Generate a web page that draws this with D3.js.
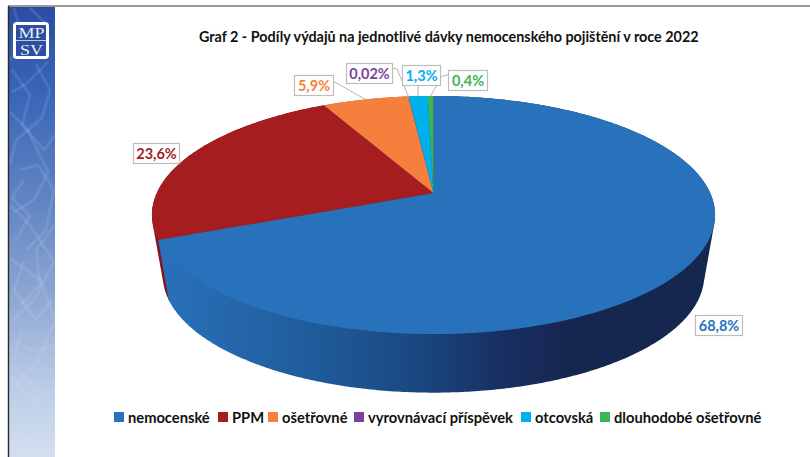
<!DOCTYPE html>
<html>
<head>
<meta charset="utf-8">
<script src="https://cdn.jsdelivr.net/npm/d3@7"></script>
<style>
html, body { margin: 0; padding: 0; background: #fff; }
svg { display: block; }
text { font-family: Lato, "Open Sans", sans-serif; font-weight: 700; }
</style>
</head>
<body>
<svg id="chart" width="810" height="457"></svg>
<script>
const titleText = 'Graf 2 - Podíly výdajů na jednotlivé dávky nemocenského pojištění v roce 2022';
const categories = ['nemocenské', 'PPM', 'ošetřovné', 'vyrovnávací příspěvek', 'otcovská', 'dlouhodobé ošetřovné'];
const values = [68.8, 23.6, 5.9, 0.02, 1.3, 0.4];
const valueLabels = ['68,8%', '23,6%', '5,9%', '0,02%', '1,3%', '0,4%'];
const colors = ['#2871bb', '#a51d1f', '#f57f3c', '#7a429c', '#00b0ec', '#3cb556'];
const sideColors = ['#2871bb', '#84141a', '#b85c28', '#56306f', '#0080ad', '#2a8040'];

// label boxes, [x, y, w], and where the leader leaves them
const labelBoxes = [[695, 315, 47], [133, 143, 46], [294, 75, 39], [346, 63, 46], [402, 65, 38], [448, 70, 39]];
const leaderPaths = [null, null, [[333, 81]], [[392, 68], [397, 69]], [[418, 85]], [[448, 75], [442, 76]]];

const legendSquares = [114, 218, 268, 354, 521, 600];

const svg = d3.select('#chart');

// the pie is a tilted circle: u, v on the unit circle go through a perspective divide
const topFace = { cx: 433.5, y0: 193, X: 276.7, Y: 115, k: 0.185 };
const bottomFace = { cx: 433.5, y0: 254, X: 266, Y: 113, k: 0.185 };

function project(face, angle) {
    let u = Math.sin(angle), v = -Math.cos(angle);
    let w = 1 - face.k * v;
    return [face.cx + face.X * u / w, face.y0 + face.Y * v / w];
}

function arcPoints(face, a0, a1) {
    let n = Math.max(2, Math.ceil((a1 - a0) / 0.01));
    return d3.range(n + 1).map(i => project(face, a0 + (a1 - a0) * i / n));
}

const line = d3.line();
const slices = d3.pie().sort(null).value(d => d)(values);

function drawSidebar() {
    let defs = svg.append('defs');
    let grad = defs.append('linearGradient').attr('id', 'bar-fill')
        .attr('x1', 0).attr('y1', 0).attr('x2', 0).attr('y2', 1);
    [[0, '#2a4da3'], [0.2, '#3a66b8'], [0.45, '#6487c4'], [0.65, '#8fa8d4'], [0.85, '#bccde7'], [1, '#d3dff0']]
        .forEach(s => grad.append('stop').attr('offset', s[0]).attr('stop-color', s[1]));

    defs.append('clipPath').attr('id', 'bar-clip').append('rect')
        .attr('x', 9).attr('y', 7).attr('width', 46).attr('height', 450);

    svg.append('rect').attr('x', 9).attr('y', 7).attr('width', 46).attr('height', 450)
        .attr('fill', 'url(#bar-fill)');

    // the faint scribbled letters in the band
    const scribbles = [
        [[30, 8], [44, 22], [10, 60]],
        [[14, 8], [18, 22], [50, 40]],
        [[12, 70], [30, 95], [22, 125], [44, 150], [55, 135]],
        [[36, 64], [50, 90], [42, 118], [16, 140], [10, 165]],
        [[10, 112], [28, 130], [48, 172], [34, 200], [14, 212]],
        [[48, 62], [26, 84], [12, 92]],
        [[20, 170], [38, 165], [54, 190], [46, 230], [26, 250]],
        [[24, 180], [12, 198], [30, 216], [16, 240]],
        [[10, 205], [30, 225], [54, 262], [34, 300], [12, 320]],
        [[24, 262], [14, 290], [36, 320], [52, 300]],
        [[55, 225], [36, 250], [40, 285], [20, 305]],
        [[10, 258], [40, 280], [55, 320], [38, 360], [18, 385]],
        [[14, 340], [34, 352], [55, 345]],
        [[22, 330], [12, 365], [36, 390]],
        [[10, 375], [30, 400], [50, 392]],
        [[40, 395], [24, 425], [34, 457]],
        [[10, 430], [30, 440], [55, 418]]
    ];
    svg.append('g').attr('clip-path', 'url(#bar-clip)')
        .selectAll('path').data(scribbles).join('path')
        .attr('d', line)
        .attr('fill', 'none')
        .attr('stroke', '#dfe6f5')
        .attr('stroke-opacity', 0.12)
        .attr('stroke-linejoin', 'round')
        .attr('stroke-width', 3);

    svg.append('line').attr('x1', 8).attr('y1', 6).attr('x2', 810).attr('y2', 6)
        .attr('stroke', '#333').attr('stroke-width', 1);
    svg.append('line').attr('x1', 8.5).attr('y1', 6).attr('x2', 8.5).attr('y2', 457)
        .attr('stroke', '#2b2b2b').attr('stroke-width', 1.4);

    // logo
    svg.append('rect').attr('x', 13).attr('y', 22).attr('width', 36).attr('height', 37).attr('rx', 4)
        .attr('fill', '#fff');
    svg.append('rect').attr('x', 16).attr('y', 25).attr('width', 30).attr('height', 31)
        .attr('fill', '#2c4f9f');
    svg.append('line').attr('x1', 16).attr('y1', 40.5).attr('x2', 46).attr('y2', 40.5)
        .attr('stroke', '#dfe6f5').attr('stroke-width', 0.8);
    [['MP', 37.5], ['SV', 54.5]].forEach(t => {
        svg.append('text')
            .attr('transform', `translate(31.5,${t[1]}) scale(1.2,1)`)
            .attr('text-anchor', 'middle')
            .style('font-family', '"Liberation Serif", serif').style('font-weight', 400)
            .style('font-size', '15px').attr('fill', '#e8edf7').text(t[0]);
    });
}

function drawPie() {
    let grad = svg.select('defs').append('linearGradient').attr('id', 'side-fill')
        .attr('gradientUnits', 'userSpaceOnUse')
        .attr('x1', 160).attr('y1', 0).attr('x2', 710).attr('y2', 0);
    [[0, '#2871bb'], [0.1, '#2669ae'], [0.3, '#1f5a98'], [0.47, '#1a4780'], [0.62, '#192f62'], [0.75, '#15264f'], [1, '#15264f']]
        .forEach(s => grad.append('stop').attr('offset', s[0]).attr('stop-color', s[1]));

    // sides back to front, blue last so only a sliver of the red shows
    svg.append('g').selectAll('path').data(slices.slice().reverse()).join('path')
        .attr('d', d => {
            let pts = arcPoints(topFace, d.startAngle, d.endAngle)
                .concat(arcPoints(bottomFace, d.startAngle, d.endAngle));
            return line(d3.polygonHull(pts)) + 'Z';
        })
        .attr('fill', d => d.index === 0 ? 'url(#side-fill)' : sideColors[d.index]);

    svg.append('g').selectAll('path').data(slices).join('path')
        .attr('d', d => {
            let pts = arcPoints(topFace, d.startAngle, d.endAngle);
            return line([[topFace.cx, topFace.y0]].concat(pts)) + 'Z';
        })
        .attr('fill', d => colors[d.index]);
}

function drawLabels() {
    let leaders = svg.append('g');
    slices.forEach(d => {
        let start = leaderPaths[d.index];
        if (!start) return;
        let end = project(topFace, (d.startAngle + d.endAngle) / 2);
        leaders.append('path')
            .attr('d', line(start.concat([end])))
            .attr('fill', 'none')
            .attr('stroke', '#b4b4b4')
            .attr('stroke-width', 1);
    });

    let boxes = svg.append('g').selectAll('g').data(labelBoxes).join('g')
        .attr('transform', d => `translate(${d[0]},${d[1]})`);
    boxes.append('rect')
        .attr('x', 0.5).attr('y', 0.5)
        .attr('width', d => d[2]).attr('height', 20)
        .attr('fill', '#fff')
        .attr('stroke', '#bdbdbd')
        .attr('stroke-width', 1.2);
    boxes.append('text')
        .attr('x', d => d[2] / 2 + 0.5).attr('y', 15.5)
        .attr('text-anchor', 'middle')
        .style('font-size', '14.5px')
        .attr('fill', (d, i) => colors[i])
        .text((d, i) => valueLabels[i]);
}

function drawLegend() {
    let items = svg.append('g').selectAll('g').data(categories).join('g')
        .attr('transform', (d, i) => `translate(${legendSquares[i]},412)`);
    items.append('rect')
        .attr('width', 10).attr('height', 10)
        .attr('fill', (d, i) => colors[i]);
    items.append('text')
        .attr('x', 14).attr('y', 10.5)
        .style('font-size', '14.7px')
        .attr('fill', '#111')
        .text(d => d);
}

drawSidebar();
drawPie();
drawLabels();
drawLegend();

svg.append('text')
    .attr('x', 199).attr('y', 42)
    .style('font-size', '14.35px')
    .attr('fill', '#111')
    .text(titleText);
</script>
</body>
</html>
